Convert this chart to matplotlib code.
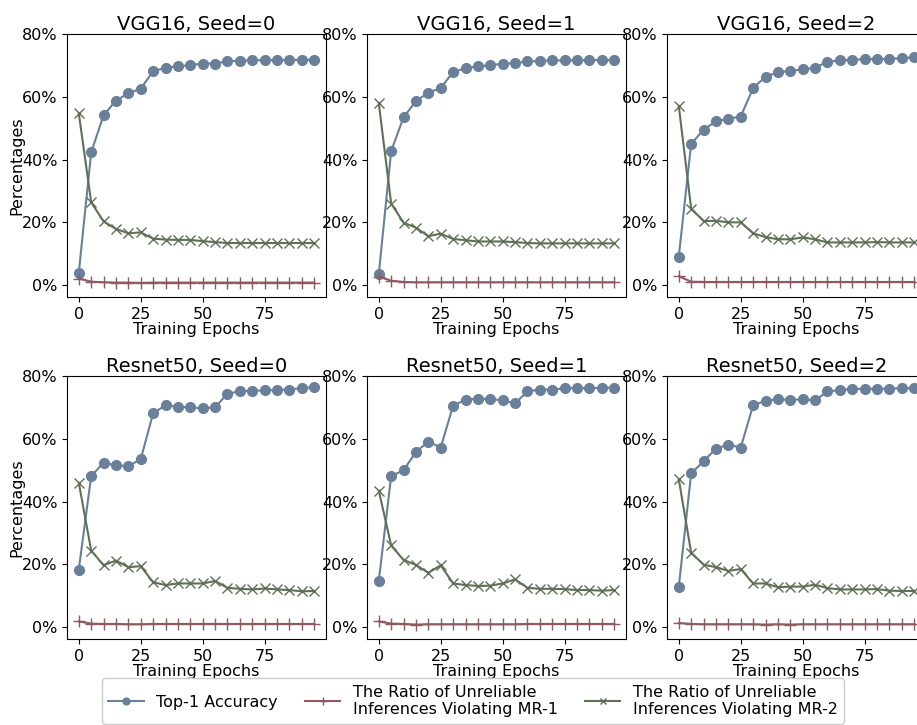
import numpy as np
import matplotlib
matplotlib.use("Agg")
import matplotlib.pyplot as plt
from matplotlib.ticker import PercentFormatter

epochs = np.arange(0, 100, 5)

titles = ["VGG16, Seed=0", "VGG16, Seed=1", "VGG16, Seed=2",
          "Resnet50, Seed=0", "Resnet50, Seed=1", "Resnet50, Seed=2"]

# Top-1 accuracy (%)
acc_vgg0 = [3.9, 42.3, 54.1, 58.8, 61.1, 62.6, 68.1, 69.3, 69.7, 70.1,
            70.6, 70.6, 71.3, 71.5, 71.6, 71.7, 71.7, 71.7, 71.8, 71.8]
acc_vgg1 = [3.5, 42.7, 53.5, 58.6, 61.3, 62.8, 67.9, 69.1, 69.7, 70.1,
            70.5, 70.7, 71.3, 71.4, 71.6, 71.6, 71.6, 71.7, 71.7, 71.7]
acc_vgg2 = [9.1, 45.0, 49.5, 52.2, 53.0, 53.7, 62.8, 66.4, 67.8, 68.3,
            68.7, 69.3, 71.2, 71.6, 71.8, 72.0, 72.0, 72.1, 72.3, 72.6]
acc_res0 = [18.3, 48.1, 52.4, 51.5, 51.3, 53.5, 68.1, 70.7, 70.2, 70.0,
            69.7, 70.0, 74.4, 75.1, 75.3, 75.4, 75.6, 75.7, 76.2, 76.4]
acc_res1 = [14.7, 48.1, 50.0, 55.8, 59.1, 57.2, 70.6, 72.4, 72.8, 72.6,
            72.3, 71.3, 75.1, 75.7, 75.7, 76.1, 76.2, 76.1, 76.3, 76.3]
acc_res2 = [12.8, 49.0, 52.8, 56.9, 58.1, 57.2, 70.7, 72.1, 72.6, 72.4,
            72.6, 72.2, 75.1, 75.5, 75.9, 75.9, 76.0, 76.0, 76.1, 76.1]

# ratio of unreliable inferences violating MR-1 (%)
mr1_vgg0 = [2.1, 1.1, 0.9, 0.8, 0.8, 0.7, 0.8, 0.8, 0.8, 0.8,
            0.8, 0.8, 0.8, 0.8, 0.8, 0.8, 0.8, 0.8, 0.8, 0.8]
mr1_vgg1 = [2.7, 1.4, 1.0, 0.9, 0.9, 0.9, 0.9, 0.9, 0.9, 0.9,
            0.9, 0.9, 0.9, 0.9, 0.9, 0.9, 0.9, 0.9, 0.9, 0.9]
mr1_vgg2 = [2.8, 1.1, 1.0, 1.0, 1.0, 1.0, 1.0, 1.0, 1.0, 1.0,
            1.0, 1.0, 1.0, 1.0, 1.0, 1.0, 1.0, 1.0, 1.0, 1.0]
mr1_res0 = [1.8, 1.1, 1.0, 1.0, 0.9, 0.9, 1.0, 1.0, 1.0, 1.0,
            1.0, 1.0, 1.0, 1.0, 1.0, 1.0, 1.0, 1.0, 1.0, 1.0]
mr1_res1 = [1.8, 1.1, 1.0, 0.8, 0.9, 0.9, 0.9, 0.9, 0.9, 0.9,
            0.9, 0.9, 1.0, 1.0, 1.0, 1.0, 1.0, 1.0, 1.0, 1.0]
mr1_res2 = [1.3, 1.0, 0.9, 0.9, 0.9, 0.9, 0.9, 0.8, 0.9, 0.8,
            0.9, 0.9, 0.9, 0.9, 0.9, 0.9, 0.9, 0.9, 0.9, 0.9]

# ratio of unreliable inferences violating MR-2 (%)
mr2_vgg0 = [54.8, 26.4, 20.3, 17.9, 16.5, 16.8, 14.8, 14.5, 14.4, 14.4,
            14.0, 13.7, 13.4, 13.4, 13.4, 13.4, 13.4, 13.4, 13.4, 13.4]
mr2_vgg1 = [58.0, 26.0, 19.9, 18.3, 15.6, 16.4, 14.7, 14.3, 13.9, 13.9,
            13.9, 13.7, 13.4, 13.3, 13.3, 13.3, 13.3, 13.3, 13.3, 13.3]
mr2_vgg2 = [57.1, 24.4, 20.4, 20.5, 20.0, 20.0, 16.5, 15.3, 14.6, 14.6,
            15.2, 14.6, 13.6, 13.6, 13.6, 13.6, 13.7, 13.6, 13.6, 13.6]
mr2_res0 = [46.0, 24.4, 19.7, 21.2, 19.1, 19.4, 14.3, 13.4, 13.9, 13.9,
            13.9, 14.7, 12.5, 12.2, 12.0, 12.3, 12.0, 11.8, 11.4, 11.5]
mr2_res1 = [43.5, 26.0, 21.4, 19.8, 17.3, 19.7, 13.9, 13.4, 13.1, 13.2,
            13.9, 15.2, 12.5, 12.2, 12.2, 12.1, 11.8, 11.8, 11.6, 11.8]
mr2_res2 = [47.1, 23.7, 19.9, 19.1, 17.9, 18.5, 13.9, 13.9, 12.7, 12.9,
            12.9, 13.5, 12.4, 12.0, 12.0, 12.0, 12.1, 11.6, 11.5, 11.5]

acc_all = [acc_vgg0, acc_vgg1, acc_vgg2, acc_res0, acc_res1, acc_res2]
mr1_all = [mr1_vgg0, mr1_vgg1, mr1_vgg2, mr1_res0, mr1_res1, mr1_res2]
mr2_all = [mr2_vgg0, mr2_vgg1, mr2_vgg2, mr2_res0, mr2_res1, mr2_res2]

labels = ["Top-1 Accuracy",
          "The Ratio of Unreliable\nInferences Violating MR-1",
          "The Ratio of Unreliable\nInferences Violating MR-2"]

c_acc = "#6a7f99"
c_mr1 = "#8c5a5f"
c_mr2 = "#5e7055"

fig = plt.figure(figsize=(9.17, 7.25), dpi=100)

lefts = [67 / 917, 367 / 917, 667 / 917]
bottoms = [0.5903, 0.1186]
w, h = 259 / 917, 263 / 725

handles = None
for i in range(6):
    r, c = divmod(i, 3)
    ax = fig.add_axes([lefts[c], bottoms[r], w, h])
    l1, = ax.plot(epochs, acc_all[i], color=c_acc, marker="o", markersize=7,
                  linewidth=1.5, label=labels[0])
    l2, = ax.plot(epochs, mr1_all[i], color=c_mr1, marker="+", markersize=8,
                  markeredgewidth=1, linewidth=1.5, label=labels[1])
    l3, = ax.plot(epochs, mr2_all[i], color=c_mr2, marker="x", markersize=7,
                  markeredgewidth=1, linewidth=1.5, label=labels[2])
    handles = [l1, l2, l3]
    ax.set_ylim(-3.8, 80)
    ax.set_yticks([0, 20, 40, 60, 80])
    ax.yaxis.set_major_formatter(PercentFormatter(decimals=0))
    ax.set_xticks([0, 25, 50, 75])
    ax.tick_params(labelsize=11.5)
    ax.set_title(titles[i], fontsize=14, pad=3)
    ax.set_xlabel("Training Epochs", fontsize=11.5, labelpad=0)
    if c == 0:
        ax.set_ylabel("Percentages", fontsize=11.5, labelpad=-2)

fig.legend(handles, labels, loc="center", bbox_to_anchor=(0.516, 0.033),
           ncol=3, fontsize=11.5, markerscale=0.7, framealpha=1,
           columnspacing=1.7, handlelength=2.2)

fig.savefig("out.png", dpi=100)
